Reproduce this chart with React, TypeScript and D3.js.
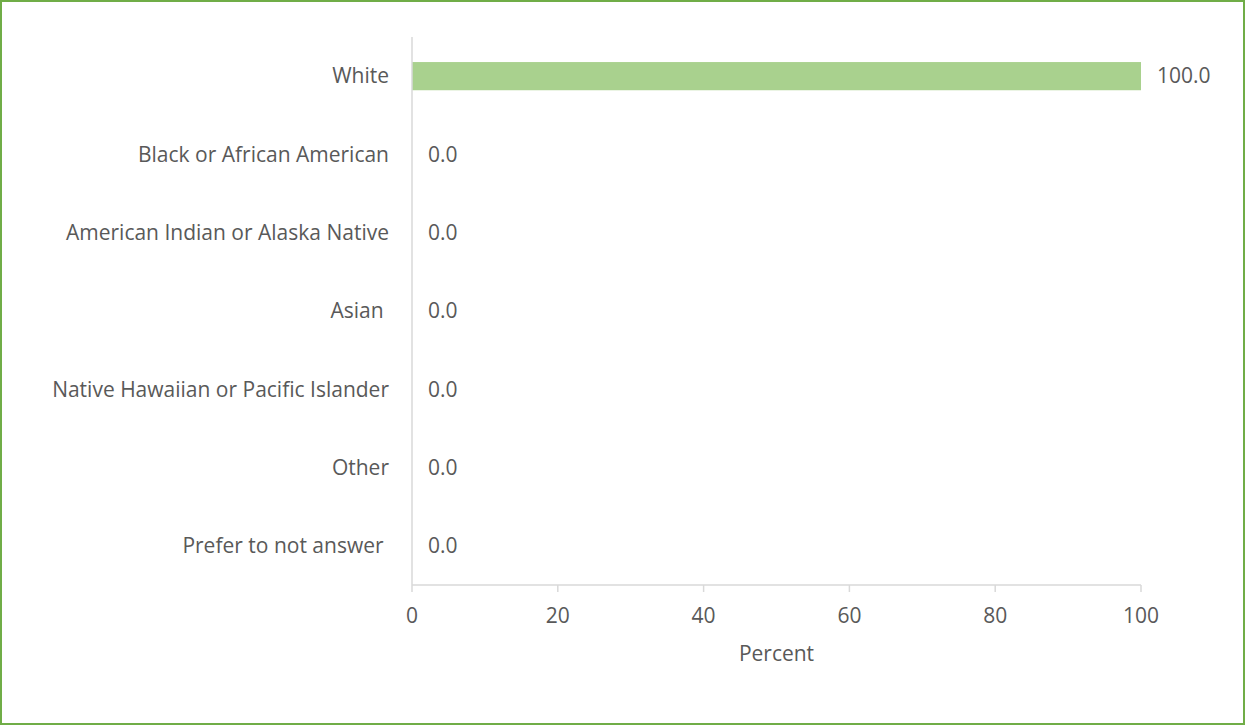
import React from "react";
import * as d3 from "d3";

const categories = [
  "White",
  "Black or African American",
  "American Indian or Alaska Native",
  "Asian ",
  "Native Hawaiian or Pacific Islander",
  "Other",
  "Prefer to not answer ",
];
const values = [100.0, 0.0, 0.0, 0.0, 0.0, 0.0, 0.0];
const xTicks = [0, 20, 40, 60, 80, 100];
const xTitle = "Percent";

const W = 1245;
const H = 725;
const FONT = "'Open Sans', sans-serif";
const FS = 21;
const TEXT = "#595959";
const AXIS = "#D9D9D9";
const BAR = "#A9D18E";
const BORDER = "#70AD47";

export default function App() {
  const x = d3.scaleLinear().domain([0, 100]).range([412, 1141]);
  const y = d3
    .scaleBand<string>()
    .domain(categories)
    .range([37, 585])
    .paddingInner(0.64)
    .paddingOuter(0.32);
  const yTop = 37;
  const yBot = 585;

  return (
    <svg
      width={W}
      height={H}
      style={{ position: "absolute", left: 0, top: 0, display: "block" }}
      fontFamily={FONT}
    >
      <rect x={0} y={0} width={W} height={H} fill="#fff" />
      <rect x={1} y={1} width={W - 2} height={H - 2} fill="none" stroke={BORDER} strokeWidth={2} />
      {categories.map((c, i) => {
        const cy = (y(c) as number) + y.bandwidth() / 2;
        return (
          <g key={c}>
            <rect
              x={x(0)}
              y={y(c)}
              width={x(values[i]) - x(0)}
              height={y.bandwidth()}
              fill={BAR}
            />
            <text
              x={389}
              y={cy}
              dy="0.35em"
              textAnchor="end"
              fontSize={FS}
              fill={TEXT}
              style={{ whiteSpace: "pre" }}
            >
              {c}
            </text>
            <text x={x(values[i]) + 16} y={cy} dy="0.35em" fontSize={FS} fill={TEXT}>
              {values[i].toFixed(1)}
            </text>
          </g>
        );
      })}
      <line x1={x(0)} x2={x(0)} y1={yTop} y2={yBot} stroke={AXIS} strokeWidth={1.5} />
      <line x1={x(0)} x2={x(100)} y1={yBot} y2={yBot} stroke={AXIS} strokeWidth={1.5} />
      {xTicks.map((t) => (
        <g key={t}>
          <line x1={x(t)} x2={x(t)} y1={yBot} y2={yBot + 7} stroke={AXIS} strokeWidth={1.5} />
          <text x={x(t)} y={623} textAnchor="middle" fontSize={FS} fill={TEXT}>
            {t}
          </text>
        </g>
      ))}
      <text x={(x(0) + x(100)) / 2} y={661} textAnchor="middle" fontSize={FS} fill={TEXT}>
        {xTitle}
      </text>
    </svg>
  );
}
